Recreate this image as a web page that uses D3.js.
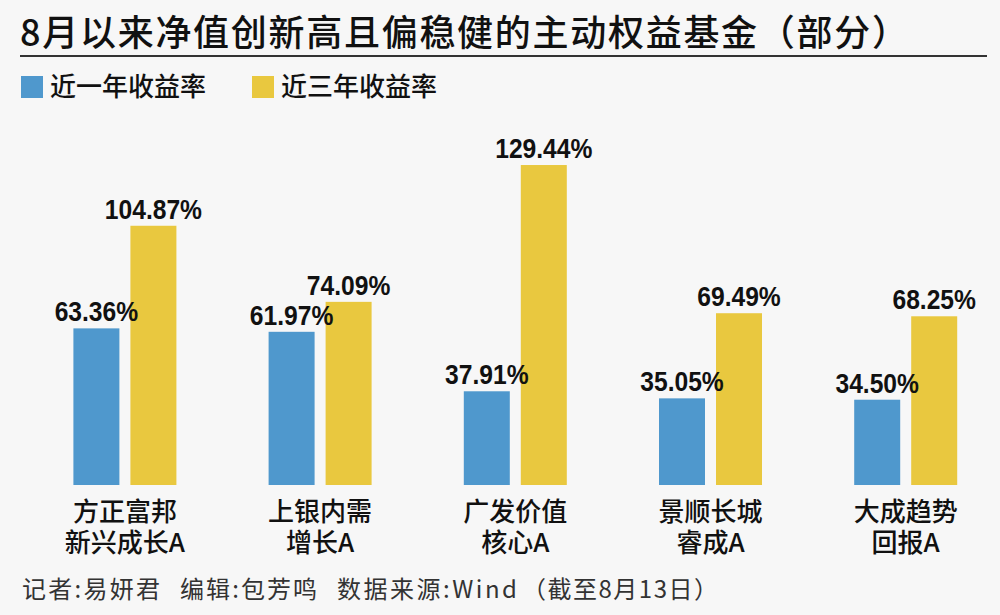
<!DOCTYPE html>
<html>
<head>
<meta charset="utf-8">
<script src="https://cdn.jsdelivr.net/npm/d3@7"></script>
<style>
  html, body { margin: 0; padding: 0; background: #f7f7f7; }
  svg { display: block; }
</style>
</head>
<body>
<svg id="chart" width="1000" height="615"></svg>
<script>
const titleText = "8月以来净值创新高且偏稳健的主动权益基金（部分）";
const categories = [
  ["方正富邦", "新兴成长A"],
  ["上银内需", "增长A"],
  ["广发价值", "核心A"],
  ["景顺长城", "睿成A"],
  ["大成趋势", "回报A"]
];
const seriesNames = ["近一年收益率", "近三年收益率"];
const oneYear = [63.36, 61.97, 37.91, 35.05, 34.50];
const threeYear = [104.87, 74.09, 129.44, 69.49, 68.25];
const seriesColors = ["#4f98cd", "#e9c83f"];
const footerParts = ["记者:易妍君", "编辑:包芳鸣", "数据来源:Wind", "（截至8月13日）"];

const cjk = "'Noto Sans CJK SC', 'Noto Sans', sans-serif";
const numFont = "'Liberation Sans', Arial, sans-serif";

const svg = d3.select("#chart");
svg.append("rect").attr("width", 1000).attr("height", 615).attr("fill", "#f7f7f7");

// Title
svg.append("text")
  .attr("x", 20).attr("y", 46)
  .attr("font-family", cjk).attr("font-weight", 500)
  .attr("font-size", 36).attr("fill", "#111")
  .attr("textLength", 888).attr("lengthAdjust", "spacing")
  .text(titleText);
svg.append("line")
  .attr("x1", 20).attr("x2", 987).attr("y1", 56).attr("y2", 56)
  .attr("stroke", "#333").attr("stroke-width", 2);

// Legend
const legendX = [21, 252];
seriesNames.forEach((s, i) => {
  svg.append("rect").attr("x", legendX[i]).attr("y", 76).attr("width", 22).attr("height", 22)
    .attr("fill", seriesColors[i]);
  svg.append("text").attr("x", legendX[i] + 29).attr("y", 96)
    .attr("font-family", cjk).attr("font-weight", 500).attr("font-size", 26).attr("fill", "#111")
    .text(s);
});

// Scales
const catKeys = categories.map(c => c.join(""));
const x0 = d3.scaleBand().domain(catKeys).range([27.3, 1003.3]).padding(0);
const x1 = d3.scaleBand().domain(seriesNames).range([-51.5, 51.5]).paddingInner(0.193);
const y = d3.scaleLinear().domain([0, 130]).range([485, 485 - 130 * 2.472]);

const rows = catKeys.map((k, i) => ({ key: k, lines: categories[i], values: [oneYear[i], threeYear[i]] }));

const groups = svg.append("g").selectAll("g").data(rows).join("g")
  .attr("transform", d => `translate(${x0(d.key) + x0.bandwidth() / 2},0)`);

const pts = d => d.values.map((v, i) => ({ s: seriesNames[i], v, i }));

groups.selectAll("rect").data(pts)
  .join("rect")
  .attr("x", d => x1(d.s))
  .attr("width", x1.bandwidth())
  .attr("y", d => y(d.v))
  .attr("height", d => y(0) - y(d.v))
  .attr("fill", d => seriesColors[d.i]);

groups.selectAll("g.val").data(pts)
  .join("g").attr("class", "val")
  .attr("transform", d => `translate(${x1(d.s) + x1.bandwidth() / 2},${y(d.v) - 7}) scale(0.88,1)`)
  .append("text")
  .attr("text-anchor", "middle")
  .attr("font-family", numFont).attr("font-weight", "bold")
  .attr("font-size", 28).attr("fill", "#111")
  .text(d => d3.format(".2f")(d.v) + "%");

groups.each(function(d) {
  const t = d3.select(this).append("text")
    .attr("x", 0).attr("y", 521)
    .attr("text-anchor", "middle")
    .attr("font-family", cjk).attr("font-weight", 500)
    .attr("font-size", 26).attr("fill", "#111");
  d.lines.forEach((ln, j) => {
    t.append("tspan").attr("x", 0).attr("dy", j === 0 ? 0 : 31).text(ln);
  });
});

// Footer
const footerX = [22, 180, 337, 522];
const footerLen = [138, 137, 180, 196];
footerParts.forEach((p, i) => {
  svg.append("text")
    .attr("x", footerX[i]).attr("y", 598)
    .attr("font-family", cjk).attr("font-size", 24).attr("fill", "#333")
    .attr("textLength", footerLen[i]).attr("lengthAdjust", "spacing")
    .text(p);
});
</script>
</body>
</html>
